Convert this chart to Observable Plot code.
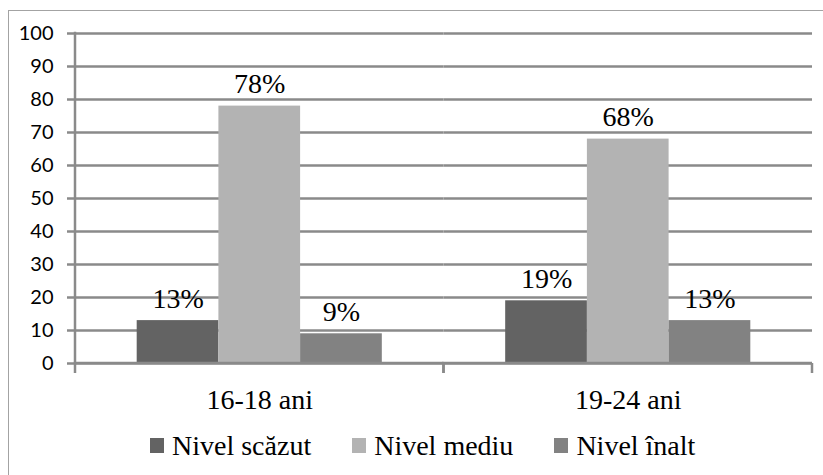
<!DOCTYPE html>
<html lang="ro">
<head>
<meta charset="utf-8">
<script src="https://cdn.jsdelivr.net/npm/d3@7"></script>
<script src="https://cdn.jsdelivr.net/npm/@observablehq/plot@0.6"></script>
<style>
  body { margin: 0; background: #fff; }
  #wrap { position: relative; width: 823px; height: 475px; overflow: hidden; background: #fff; }
  #border { position: absolute; left: 8px; top: 10px; width: 1000px; height: 1000px;
            border-left: 1.5px solid #a3a3a3; border-top: 1.5px solid #a3a3a3; }
  #chart { position: absolute; left: 0; top: 0; }
  #legend { position: absolute; left: 150px; top: 430px; font-size: 28px; color: #000; white-space: nowrap; }
  .item { position: absolute; top: 0; }
  .sw { position: absolute; top: 8px; width: 14px; height: 15px; }
  .lbl { position: absolute; top: 0; left: 22px; }
  .serif-text, .serif-text text, text.serif-text { font-family: 'Liberation Serif', 'Times New Roman', Tinos, serif !important; }
</style>
</head>
<body>
<div id="wrap">
  <div id="border"></div>
  <div id="chart"></div>
  <div id="legend" class="serif-text"></div>
</div>
<script>
const groups = ["16-18 ani", "19-24 ani"];
const levels = ["Nivel scăzut", "Nivel mediu", "Nivel înalt"];
const values1618 = [13, 78, 9];
const values1924 = [19, 68, 13];
const colors = ["#636363", "#b3b3b3", "#828282"];
const yTicks = [0, 10, 20, 30, 40, 50, 60, 70, 80, 90, 100];

const seriesByGroup = [values1618, values1924];
const data = groups.flatMap((g, i) => levels.map((l, j) => ({group: g, level: l, value: seriesByGroup[i][j]})));

const serifFont = "'Liberation Serif', 'Times New Roman', serif";
const sansFont = "Lato, 'Open Sans', sans-serif";
const gridColor = "#8a8a8a";
const gridWidth = 2.5;

function axisFrame(index, scales, values, dimensions) {
  const ns = "http://www.w3.org/2000/svg";
  const g = document.createElementNS(ns, "g");
  if (!index.length) return g;
  let xr = scales.x && scales.x.range ? scales.x.range().slice() : [dimensions.marginLeft, dimensions.width - dimensions.marginRight];
  xr.sort((a, b) => a - b);
  const [x0, x1] = xr;
  const y0 = scales.y(0);
  const yTop = scales.y(100);
  const line = (xa, ya, xb, yb) => {
    const l = document.createElementNS(ns, "line");
    l.setAttribute("x1", xa); l.setAttribute("y1", ya);
    l.setAttribute("x2", xb); l.setAttribute("y2", yb);
    l.setAttribute("stroke", gridColor);
    l.setAttribute("stroke-width", gridWidth);
    g.appendChild(l);
  };
  line(x0 - 1.25, y0, x1, y0);
  line(x0, y0, x0, y0 + 10);
  line(x1, y0, x1, y0 + 10);
  if (groups[index[0]] === groups[0]) line(x0, yTop - 1.25, x0, y0);
  return g;
}

const chart = Plot.plot({
  width: 823,
  height: 420,
  marginLeft: 75,
  marginRight: 11,
  marginTop: 33,
  marginBottom: 57,
  style: {background: "transparent"},
  fx: {domain: groups, padding: 0, round: false, label: null},
  x: {domain: levels, paddingInner: 0, paddingOuter: 0.755, round: false, axis: null},
  y: {domain: [0, 100], axis: null},
  color: {domain: levels, range: colors},
  marks: [
    Plot.ruleY(yTicks, {stroke: gridColor, strokeWidth: gridWidth}),
    Plot.axisY({ticks: yTicks, tickSize: 8, tickPadding: 14, stroke: gridColor, strokeWidth: gridWidth,
                fontSize: 20, fontFamily: sansFont, fill: "#000", label: null}),
    Plot.barY(data, {fx: "group", x: "level", y: "value", fill: "level"}),
    Plot.text(data, {fx: "group", x: "level", y: "value", text: d => d.value + "%", lineAnchor: "bottom", dy: -13,
                     fontSize: 28, fontFamily: serifFont, fill: "#000", className: "serif-text"}),
    Plot.axisFx({anchor: "bottom", tickSize: 0, tickPadding: 26, fontSize: 28,
                 fontFamily: serifFont, fill: "#000", label: null, className: "serif-text"}),
    Plot.ruleY(groups, {fx: d => d, y: () => 0, render: axisFrame})
  ]
});
document.getElementById("chart").appendChild(chart);

// legend item offsets follow the measured text widths
const legend = document.getElementById("legend");
const measure = document.createElement("span");
measure.className = "serif-text";
measure.style.cssText = "position:absolute;visibility:hidden;font-size:28px;white-space:nowrap";
document.body.appendChild(measure);
let offset = 0;
levels.forEach((l, i) => {
  measure.textContent = l;
  const w = measure.getBoundingClientRect().width;
  const item = document.createElement("div");
  item.className = "item";
  item.style.left = offset + "px";
  const sw = document.createElement("span");
  sw.className = "sw";
  sw.style.background = colors[i];
  const t = document.createElement("span");
  t.className = "lbl serif-text";
  t.textContent = l;
  item.appendChild(sw);
  item.appendChild(t);
  legend.appendChild(item);
  offset += 22 + w + 41;
});
measure.remove();
</script>
</body>
</html>
